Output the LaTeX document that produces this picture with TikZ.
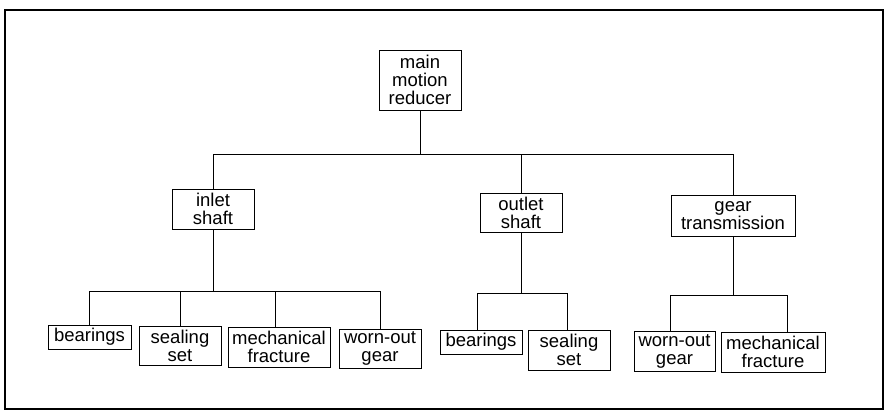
\documentclass[tikz,border=0pt]{standalone}
\usepackage{fontspec}
\setmainfont{Liberation Sans}
\usetikzlibrary{calc}
\begin{document}
\begin{tikzpicture}[x=1pt,y=-1pt,
  box/.style={draw=black, line width=0.9pt, inner sep=0pt, align=center,
    font=\fontsize{18.5}{18}\selectfont},
  link/.style={draw=black, line width=0.9pt},
  frame/.style={draw=black, line width=1.4pt}]
\useasboundingbox (0,0) rectangle (888,416);
\draw[frame] (5,10) rectangle (883,409);
% level 0
\node[box, minimum width=82pt, minimum height=60pt] (main) at (420,80) {main\\motion\\reducer};
% level 1
\node[box, minimum width=82pt, minimum height=40pt] (inlet) at (213,209) {inlet\\shaft};
\node[box, minimum width=82pt, minimum height=39pt] (outlet) at (521,212.5) {outlet\\shaft};
\node[box, minimum width=124pt, minimum height=41pt] (gear) at (733,215.5) {gear\\transmission};
% level 2 - inlet
\node[box, minimum width=83pt, minimum height=24pt] (b1) at (89.5,337) {bearings};
\node[box, minimum width=82pt, minimum height=39pt] (s1) at (180,345.5) {sealing\\set};
\node[box, minimum width=102pt, minimum height=40pt] (m1) at (279,347) {mechanical\\fracture};
\node[box, minimum width=82pt, minimum height=39pt] (w1) at (380,348.5) {worn-out\\gear};
% level 2 - outlet
\node[box, minimum width=82pt, minimum height=24pt] (b2) at (481,342) {bearings};
\node[box, minimum width=82pt, minimum height=40pt] (s2) at (569,350) {sealing\\set};
% level 2 - gear
\node[box, minimum width=81pt, minimum height=40pt] (w3) at (674.5,351) {worn-out\\gear};
\node[box, minimum width=104pt, minimum height=40pt] (m3) at (773,352) {mechanical\\fracture};
% connectors level 0 -> 1
\coordinate (j0) at ($(main.south)+(0,44)$);
\draw[link] (main.south) -- (j0);
\draw[link] (inlet.north) |- (j0) -| (gear.north);
\draw[link] (outlet.north) -- (outlet.north |- j0);
% inlet -> children
\coordinate (j1) at ($(inlet.south)+(0,62)$);
\draw[link] (inlet.south) -- (j1);
\draw[link] (b1.north) |- (j1) -| (w1.north);
\draw[link] (s1.north) -- (s1.north |- j1);
\coordinate (m1t) at ($(m1.north)+(-4,0)$);
\draw[link] (m1t) -- (m1t |- j1);
% outlet -> children
\coordinate (j2) at ($(outlet.south)+(0,61)$);
\draw[link] (outlet.south) -- (j2);
\coordinate (b2t) at ($(b2.north)+(-4,0)$);
\coordinate (s2t) at ($(s2.north)+(-2,0)$);
\draw[link] (b2t) |- (j2) -| (s2t);
% gear -> children
\coordinate (j3) at ($(gear.south)+(0,59)$);
\draw[link] (gear.south) -- (j3);
\coordinate (w3t) at ($(w3.north)+(-4,0)$);
\coordinate (m3t) at ($(m3.north)+(14,0)$);
\draw[link] (w3t) |- (j3) -| (m3t);
\end{tikzpicture}
\end{document}
